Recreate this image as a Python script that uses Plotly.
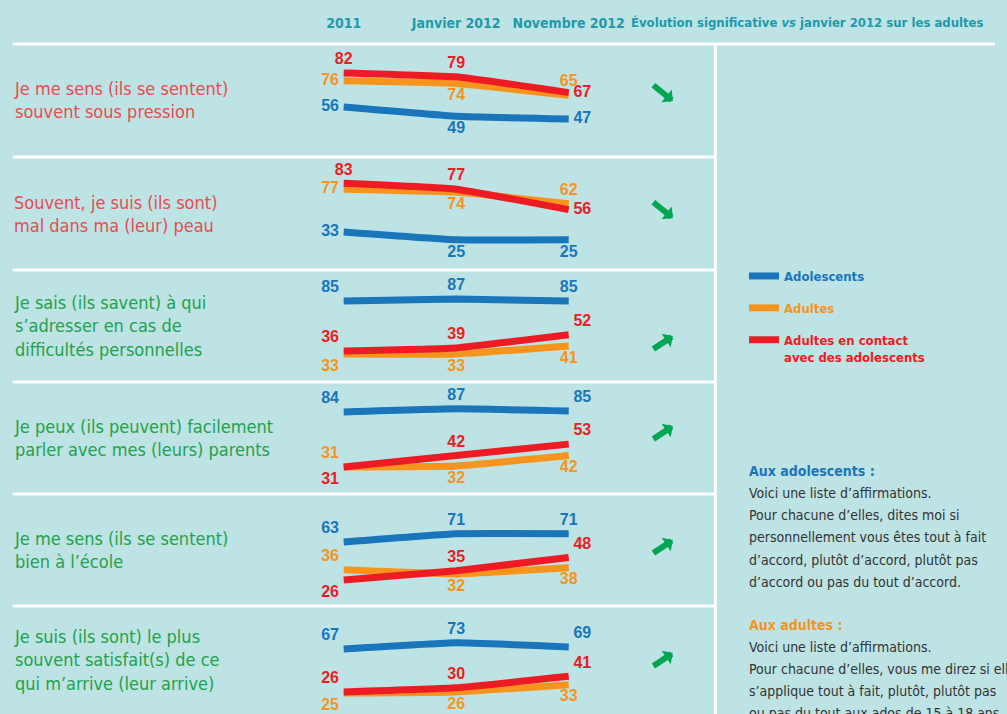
import plotly.graph_objs as go

# data
periods = ['2011', 'Janvier 2012', 'Novembre 2012']
statements = [
    'Je me sens (ils se sentent)<br>souvent sous pression',
    'Souvent, je suis (ils sont)<br>mal dans ma (leur) peau',
    'Je sais (ils savent) à qui<br>s\u2019adresser en cas de<br>difficultés personnelles',
    'Je peux (ils peuvent) facilement<br>parler avec mes (leurs) parents',
    'Je me sens (ils se sentent)<br>bien à l\u2019école',
    'Je suis (ils sont) le plus<br>souvent satisfait(s) de ce<br>qui m\u2019arrive (leur arrive)',
]
adolescents = [[56, 49, 47], [33, 25, 25], [85, 87, 85], [84, 87, 85], [63, 71, 71], [67, 73, 69]]
adultes = [[76, 74, 65], [77, 74, 62], [33, 33, 41], [31, 32, 42], [36, 32, 38], [25, 26, 33]]
contact = [[82, 79, 67], [83, 77, 56], [36, 39, 52], [31, 42, 53], [26, 35, 48], [26, 30, 41]]
evolution = ['down', 'down', 'up', 'up', 'up', 'up']

# styling
W, H = 1007, 714
BG = '#bde3e5'
BLUE, ORANGE, RED = '#1a75bb', '#f7941d', '#ed1c24'
TEAL = '#1f9aab'
GREEN_ARROW = '#00a651'
COND = 'Liberation Sans Narrow, DejaVu Sans Condensed, Arial Narrow, sans-serif'
SANS = 'Liberation Sans, Arial, sans-serif'

row_top = [44, 157, 270, 382, 494, 606]
row_bot = [157, 270, 382, 494, 606, 714]
y_ranges = [[18, 104], [-6, 110], [5.6, 115.4], [5, 112.8], [0.8, 109.6], [5, 108]]
label_colors = ['#e94b50', '#e94b50', '#22a24a', '#22a24a', '#22a24a', '#22a24a']
arrow_y = [101, 218, 336, 426, 540, 653]

pos_ado = [['middle left', 'bottom center', 'middle right'],
           ['middle left', 'bottom center', 'bottom center'],
           ['top left', 'top center', 'top center'],
           ['top left', 'top center', 'top right'],
           ['top left', 'top center', 'top center'],
           ['top left', 'top center', 'top right']]
pos_adu = [['middle left', 'bottom center', 'top center'],
           ['middle left', 'bottom center', 'top center'],
           ['bottom left', 'bottom center', 'bottom center'],
           ['top left', 'bottom center', 'bottom center'],
           ['top left', 'bottom center', 'bottom center'],
           ['bottom left', 'bottom center', 'bottom center']]
pos_con = [['top center', 'top center', 'middle right'],
           ['top center', 'top center', 'middle right'],
           ['top left', 'top center', 'top right'],
           ['bottom left', 'top center', 'top right'],
           ['bottom left', 'top center', 'top right'],
           ['top left', 'top center', 'top right']]

names = [
    '<span style="color:%s">Adolescents</span>' % BLUE,
    '<span style="color:%s">Adultes</span>' % ORANGE,
    '<span style="color:%s">Adultes en contact</span><br><span style="color:%s">avec des adolescents</span>' % (RED, RED),
]

fig = go.Figure()
layout = dict(
    width=W, height=H,
    margin=dict(l=0, r=0, t=0, b=0),
    paper_bgcolor=BG, plot_bgcolor=BG,
    showlegend=True,
    legend=dict(x=753 / W, y=1 - 261 / H, xanchor='left', yanchor='top', valign='top',
                bgcolor='rgba(0,0,0,0)', traceorder='grouped', tracegroupgap=12,
                font=dict(family=COND, size=13, weight='bold')),
)

shapes = []
annotations = []

for i in range(6):
    ax_id = '' if i == 0 else str(i + 1)
    xa = 'x' + ax_id
    ya = 'y' + ax_id
    for j, (vals, col, pos) in enumerate([(adolescents[i], BLUE, pos_ado[i]),
                                          (adultes[i], ORANGE, pos_adu[i]),
                                          (contact[i], RED, pos_con[i])]):
        fig.add_trace(go.Scatter(
            x=periods, y=vals, mode='lines+markers+text', text=[str(v) for v in vals],
            textposition=pos, textfont=dict(family=SANS, size=16, color=col, weight='bold'),
            line=dict(color=col, width=7, shape='spline', smoothing=0.3),
            marker=dict(size=6, color='rgba(0,0,0,0)'),
            name=names[j], legendgroup='g%d' % j, showlegend=(i == 0),
            hoverinfo='skip', xaxis=xa, yaxis=ya, cliponaxis=False))
    dom_y = [1 - row_bot[i] / H, 1 - row_top[i] / H]
    layout['xaxis' + ax_id] = dict(
        domain=[300 / W, 620 / W], range=[-0.42, 2.39], anchor=ya,
        showgrid=False, zeroline=False, showline=False,
        showticklabels=(i == 0), side='top', ticks='', ticklabelstandoff=12,
        tickfont=dict(family=COND, size=14, color=TEAL, weight='bold'))
    layout['yaxis' + ax_id] = dict(
        domain=dom_y, range=y_ranges[i], anchor=xa,
        showgrid=False, zeroline=False, showline=False, showticklabels=False)

    # statement label
    annotations.append(dict(
        x=12 / W, y=1 - (row_top[i] + row_bot[i]) / 2 / H, xref='paper', yref='paper',
        xanchor='left', yanchor='middle', align='left', showarrow=False,
        text=statements[i], font=dict(family=COND, size=18, color=label_colors[i])))

    # evolution arrow
    ay = -17 if evolution[i] == 'down' else 14
    annotations.append(dict(
        x=681 / W, y=1 - arrow_y[i] / H, xref='paper', yref='paper', text='',
        showarrow=True, ax=-21, ay=ay, arrowcolor=GREEN_ARROW, arrowwidth=6,
        arrowhead=1, arrowsize=0.45))

    # separators
    x1 = 1 if i == 0 else 724 / W
    shapes.append(dict(type='line', xref='paper', yref='paper', x0=13 / W, x1=x1,
                       y0=1 - row_top[i] / H, y1=1 - row_top[i] / H,
                       line=dict(color='white', width=3)))

shapes.append(dict(type='line', xref='paper', yref='paper', x0=724 / W, x1=724 / W,
                   y0=0, y1=1 - 44 / H, line=dict(color='white', width=3)))

annotations.append(dict(
    x=817 / W, y=1 - 22 / H, xref='paper', yref='paper', showarrow=False,
    xanchor='center', yanchor='middle',
    text='Évolution significative <i>vs</i> janvier 2012 sur les adultes',
    font=dict(family=COND, size=13, color=TEAL, weight='bold')))

# question wording
notes = [
    ('Aux adolescents :', BLUE, 471),
    ('Voici une liste d\u2019affirmations.', '#333333', 493),
    ('Pour chacune d\u2019elles, dites moi si', '#333333', 515),
    ('personnellement vous êtes tout à fait', '#333333', 537),
    ('d\u2019accord, plutôt d\u2019accord, plutôt pas', '#333333', 560),
    ('d\u2019accord ou pas du tout d\u2019accord.', '#333333', 582),
    ('Aux adultes :', ORANGE, 625),
    ('Voici une liste d\u2019affirmations.', '#333333', 647),
    ('Pour chacune d\u2019elles, vous me direz si elle', '#333333', 669),
    ('s\u2019applique tout à fait, plutôt, plutôt pas', '#333333', 691),
    ('ou pas du tout aux ados de 15 à 18 ans', '#333333', 713),
]
for txt, col, py in notes:
    bold = col != '#333333'
    annotations.append(dict(
        x=756 / W, y=1 - py / H, xref='paper', yref='paper', showarrow=False,
        xanchor='left', yanchor='middle', text=txt,
        font=dict(family=COND, size=14, color=col, weight='bold' if bold else 'normal')))

layout['shapes'] = shapes
layout['annotations'] = annotations
fig.update_layout(**layout)

fig.write_html('out.html', config={'displayModeBar': False},
               post_script="document.body.style.margin='0';document.body.style.overflow='hidden';")
